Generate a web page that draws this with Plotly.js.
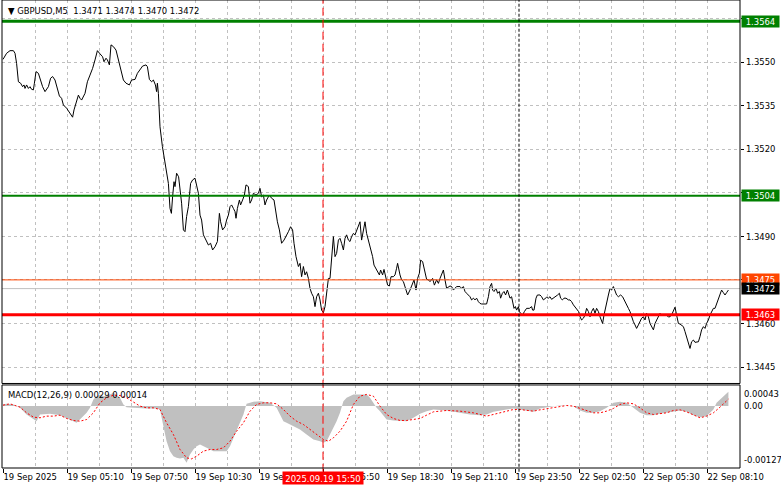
<!DOCTYPE html>
<html><head><meta charset="utf-8">
<script src="https://cdn.plot.ly/plotly-3.0.1.min.js"></script>
<style>html,body{margin:0;padding:0;background:#fff}#chart{width:781px;height:489px}</style>
</head><body><div id="chart"></div>
<script>
// ---- data (bar index of M5 bars, prices) ----
const priceIdx = [0,1.8,3.5,5.2,6,6.8,7.7,8.8,9.8,10.5,11,11.8,12.7,13.5,14.3,15.2,15.7,16.5,17.7,18.5,19.8,21,22.7,23.8,24.8,26,27.2,28.2,29.3,30.2,31.8,33.5,34.8,35.5,36.5,37.7,38.5,39.3,41,42.2,43.5,44.8,46,47.2,48.5,49.8,50.5,51.5,52.2,53.2,54,55.2,56.5,57.7,58.8,60.2,61.5,63.2,64.3,66,67.2,68.5,69.8,71.5,72.2,73.2,74.3,75.2,76.2,76.8,77.2,77.7,78.5,79.7,81,81.8,82.7,83.5,84.2,84.8,85.5,86,86.8,87.8,88.5,89.3,90.2,91,91.8,92.7,93.8,94.8,96,96.8,97.7,98.5,99.3,100.2,101,101.8,102.7,103.8,104.8,106,107.2,108.2,108.8,109.8,111,111.8,112.7,113.5,114.3,115.2,116,116.5,117.2,118.2,118.8,119.8,120.7,121.5,122.7,123.5,124.3,125.2,126.5,127.7,128.5,129.3,130.2,131,131.8,133.2,134.3,135.5,136.5,137.2,138.2,139.3,140.5,141.5,142.7,143.8,144.8,145.5,146.5,147.7,148.5,149.3,150.2,151,151.8,152.7,153.5,154.3,155.2,156,156.8,157.7,158.5,159.3,160.2,161,161.8,162.7,163.5,164.3,
165.2,166,166.8,167.7,168.5,169.3,170.2,171,171.8,172.7,173.5,174.3,175.2,176,176.8,177.7,178.5,179.3,180.2,181,181.8,182.7,183.5,184.3,184.8,185.5,186.8,188.2,188.8,189.8,190.5,191.5,192.3,193.2,194,195.2,196,196.8,197.3,198.5,199.3,200.2,201.5,202.3,203.5,204.3,205.5,206.5,207.3,208.2,208.8,209.8,210.7,211.8,212.7,213.5,214.8,215.7,216.8,217.7,218.5,219.3,220.2,221,221.8,223.5,224.3,225.2,226,226.8,228.5,229.3,230.2,231,231.8,232.7,233.5,234.3,235.2,236,236.8,237.7,238.5,239.3,240.5,241.8,242.7,243.5,244.3,244.8,245.5,246.5,247.3,248.2,248.8,249.7,250.5,251.3,252.2,253.5,254.3,255.5,256.2,256.8,257.7,258.2,258.8,259.8,260.7,261.8,263.2,264.3,264.8,265.5,266.5,267.2,268.5,269.3,270.2,271,271.8,272.7,273.5,274.3,275.2,276.5,277.3,278.2,278.8,279.7,280.5,281.5,282.7,283.5,284.3,285.2,286,287.2,287.8,288.5,289.3,290.2,291,291.8,292.7,293.5,294.3,295.2,296,296.8,297.7,298.5,299.3,299.8,300.5,301.2,301.8,302.7,303.5,304.3,305.2,306,306.8,307.7,308.8,309.8,310.5,311.5,312.7,313.5,314.3,315.2,316,316.8,317.7,318.5,319.3,320.2,321,321.8,322.7,323.5,324.3,325.2,326,326.8,327.7,328.5,329.3,330.2,331.5,332.7,333.5,334.3,335.2,336,336.8,337.7,338.5,339.3,340.2,341,341.8,342.7,343.5,344.3,345.2,346,346.8,347.7,348.5,349.3,350.2,351,351.8,352.7,353.5,354.3,355.2,356,356.8,357.7,358.5,359.3,360.2,361,361.8,362.7];
const priceVal = [1.35509,1.35530,1.35539,1.35539,1.35530,1.35495,1.35432,1.35427,1.35415,1.35421,1.35409,1.35421,1.35409,1.35415,1.35406,1.35404,1.35427,1.35467,1.35461,1.35444,1.35415,1.35398,1.35415,1.35444,1.35450,1.35438,1.35404,1.35383,1.35375,1.35352,1.35341,1.35323,1.35310,1.35335,1.35363,1.35386,1.35375,1.35369,1.35392,1.35432,1.35455,1.35478,1.35507,1.35539,1.35528,1.35518,1.35501,1.35513,1.35507,1.35490,1.35559,1.35553,1.35541,1.35507,1.35484,1.35438,1.35427,1.35421,1.35438,1.35440,1.35461,1.35472,1.35486,1.35490,1.35484,1.35440,1.35432,1.35438,1.35421,1.35398,1.35427,1.35392,1.35277,1.35209,1.35151,1.35117,1.35082,1.34996,1.34979,1.35036,1.35088,1.35071,1.35117,1.35105,1.35071,1.35014,1.34922,1.34916,1.34968,1.35002,1.35082,1.35094,1.35100,1.35071,1.35048,1.34973,1.34956,1.34905,1.34893,1.34882,1.34870,1.34876,1.34853,1.34864,1.34882,1.34979,1.34950,1.34922,1.34933,1.34956,1.34973,1.35002,1.35008,1.34996,1.34985,1.34962,1.34996,1.35025,1.35008,1.35025,1.35042,1.35077,1.35071,1.35014,1.35025,1.35048,1.35042,1.35048,1.35065,1.35036,1.35042,1.35008,1.35025,1.35042,1.35031,1.35025,1.34979,1.34950,1.34922,1.34876,1.34887,1.34899,1.34916,1.34933,1.34922,1.34876,1.34830,1.34796,1.34807,1.34761,1.34796,1.34767,1.34778,1.34755,1.34721,1.34704,1.34692,1.34658,1.34692,1.34704,1.34681,1.34646,1.34637,1.34658,1.34715,1.34755,1.34755,1.34830,
1.34899,1.34830,1.34841,1.34887,1.34893,1.34876,1.34853,1.34893,1.34905,1.34887,1.34882,1.34899,1.34910,1.34905,1.34922,1.34939,1.34950,1.34887,1.34922,1.34950,1.34910,1.34887,1.34864,1.34847,1.34830,1.34801,1.34784,1.34767,1.34784,1.34767,1.34786,1.34761,1.34732,1.34729,1.34761,1.34761,1.34767,1.34790,1.34807,1.34767,1.34750,1.34744,1.34710,1.34698,1.34715,1.34727,1.34750,1.34715,1.34755,1.34773,1.34818,1.34813,1.34790,1.34752,1.34750,1.34744,1.34755,1.34732,1.34750,1.34738,1.34755,1.34767,1.34784,1.34750,1.34721,1.34729,1.34727,1.34715,1.34721,1.34727,1.34727,1.34721,1.34727,1.34710,1.34704,1.34698,1.34692,1.34681,1.34687,1.34681,1.34687,1.34675,1.34669,1.34667,1.34667,1.34667,1.34692,1.34727,1.34738,1.34715,1.34710,1.34721,1.34704,1.34710,1.34687,1.34704,1.34710,1.34698,1.34715,1.34687,1.34692,1.34652,1.34658,1.34646,1.34658,1.34641,1.34635,1.34629,1.34641,1.34652,1.34652,1.34658,1.34646,1.34646,1.34687,1.34698,1.34698,1.34692,1.34681,1.34687,1.34690,1.34687,1.34692,1.34683,1.34687,1.34692,1.34698,1.34704,1.34687,1.34681,1.34687,1.34687,1.34681,1.34681,1.34675,1.34664,1.34658,1.34646,1.34641,1.34623,1.34612,1.34618,1.34629,1.34652,1.34641,1.34623,1.34641,1.34652,1.34635,1.34652,1.34641,1.34623,1.34606,1.34600,1.34629,1.34652,1.34681,1.34698,1.34721,1.34715,1.34727,1.34710,1.34698,1.34692,1.34698,1.34692,1.34681,1.34669,1.34652,1.34641,1.34623,1.34606,1.34595,1.34583,1.34595,1.34606,1.34618,1.34623,1.34612,1.34635,1.34623,1.34600,1.34589,1.34578,1.34600,1.34612,1.34623,1.34635,1.34629,1.34629,1.34629,1.34623,1.34623,1.34629,1.34641,1.34656,1.34629,1.34600,1.34598,1.34595,1.34589,1.34572,1.34555,1.34532,1.34514,1.34537,1.34543,1.34535,1.34535,1.34537,1.34555,1.34578,1.34589,1.34583,1.34600,1.34612,1.34629,1.34641,1.34652,1.34652,1.34669,1.34681,1.34698,1.34715,1.34706,1.34698,1.34706,1.34715];

const macdIdx = [0,1.8,5.2,8.5,11.8,15.2,16.8,18.5,23.5,28.5,31.8,35.2,36.8,38.5,41.8,43.5,45.2,46.8,48.5,50.2,53.5,55.2,58.5,60.2,61.8,65.2,68.5,71.8,76.8,78.5,80.2,81.8,83.5,85.2,86.8,88.5,90.2,91.8,93.5,95.2,96.8,98.5,101.8,105.2,108.5,111.8,113.5,115.2,116.8,118.5,120.2,121.8,125.2,128.5,131.8,133.5,135.2,136.8,138.5,140.2,141.8,145.2,148.5,151.8,155.2,158.5,160.2,161.8,163.5,165.2,166.8,168.5,170.2,171.8,173.5,175.2,178.5,181.8,183.5,185.2,186.8,188.5,191.8,195.2,198.5,201.8,205.2,208.5,211.8,215.2,221.8,228.5,233.5,238.5,241.8,245.2,248.5,251.8,255.2,258.5,261.8,265.2,268.5,271.8,275.2,278.5,281.8,285.2,288.5,291.8,295.2,298.5,301.8,305.2,308.5,311.8,315.2,318.5,321.8,325.2,328.5,331.8,335.2,338.5,341.8,345.2,348.5,351.8,353.5,355.2,356.8,358.5,360.2,361.8,362.7];
const macdVal = [0.000031,0.000044,0.000031,-0.000038,-0.000174,-0.000277,-0.000311,-0.000174,-0.000161,-0.000188,-0.000242,-0.000311,-0.000345,-0.000277,-0.000140,-0.000038,0.000133,0.000201,0.000236,0.000201,0.000236,0.000270,0.000167,0.000031,-0.000024,-0.000038,-0.000051,-0.000051,-0.000051,-0.000072,-0.000413,-0.000721,-0.000925,-0.001028,-0.001062,-0.001076,-0.001062,-0.001164,-0.000994,-0.000891,-0.000823,-0.000789,-0.000857,-0.000925,-0.000925,-0.000925,-0.000823,-0.000652,-0.000482,-0.000345,-0.000174,0.000044,0.000085,0.000099,0.000085,0.000065,0.000017,-0.000038,-0.000174,-0.000311,-0.000345,-0.000413,-0.000482,-0.000584,-0.000686,-0.000721,-0.000755,-0.000721,-0.000584,-0.000447,-0.000311,-0.000140,0.000099,0.000167,0.000201,0.000236,0.000236,0.000236,0.000167,0.000065,-0.000038,-0.000106,-0.000277,-0.000297,-0.000297,-0.000311,-0.000242,-0.000161,-0.000106,-0.000072,-0.000092,-0.000140,-0.000174,-0.000188,-0.000174,-0.000120,-0.000092,-0.000072,-0.000051,-0.000072,-0.000106,-0.000120,-0.000051,-0.000024,-0.000003,0.000010,0.000010,-0.000003,-0.000092,-0.000140,-0.000140,-0.000106,-0.000038,0.000065,0.000085,0.000065,-0.000038,-0.000140,-0.000188,-0.000188,-0.000161,-0.000140,-0.000106,-0.000092,-0.000120,-0.000188,-0.000229,-0.000208,-0.000140,-0.000072,0.000065,0.000133,0.000201,0.000270,0.00029];

const signalIdx = [0,3.5,8.5,11.8,15.2,18.5,21.8,25.2,28.5,31.8,35.2,38.5,41.8,45.2,48.5,51.8,55.2,58.5,61.8,65.2,68.5,71.8,75.2,78.5,81.8,85.2,88.5,91.8,94.3,96.8,100.2,103.5,106.8,110.2,113.5,116.8,120.2,123.5,126.8,130.2,133.5,136.8,140.2,143.5,146.8,150.2,153.5,156.8,160.2,162.7,165.2,168.5,171.8,175.2,178.5,181.8,185.2,188.5,191.8,195.2,198.5,201.8,205.2,208.5,211.8,215.2,218.5,221.8,228.5,235.2,241.8,245.2,248.5,251.8,255.2,258.5,261.8,265.2,268.5,271.8,275.2,278.5,281.8,285.2,288.5,291.8,295.2,298.5,301.8,305.2,308.5,311.8,315.2,318.5,321.8,325.2,328.5,331.8,335.2,338.5,341.8,345.2,348.5,351.8,355.2,358.5,361.8,362.7];
const signalVal = [0.000017,0.000044,-0.000024,-0.000140,-0.000229,-0.000242,-0.000208,-0.000208,-0.000188,-0.000256,-0.000297,-0.000311,-0.000277,-0.000140,0.000065,0.000167,0.000222,0.000215,0.000167,0.000085,-0.000003,-0.000038,-0.000038,-0.000072,-0.000345,-0.000584,-0.000891,-0.001062,-0.001083,-0.001028,-0.000925,-0.000891,-0.000891,-0.000857,-0.000721,-0.000516,-0.000345,-0.000106,0.000031,0.000065,0.000065,0.000044,-0.000072,-0.000208,-0.000311,-0.000379,-0.000482,-0.000584,-0.000686,-0.000721,-0.000652,-0.000516,-0.000311,0.000031,0.000201,0.000236,0.000201,-0.000003,-0.000174,-0.000256,-0.000297,-0.000297,-0.000277,-0.000256,-0.000188,-0.000120,-0.000106,-0.000092,-0.000106,-0.000140,-0.000208,-0.000174,-0.000140,-0.000106,-0.000072,-0.000072,-0.000085,-0.000106,-0.000079,-0.000058,-0.000038,-0.000010,0.000010,-0.000003,-0.000051,-0.000106,-0.000140,-0.000140,-0.000106,-0.000051,0.000031,0.000065,0.000044,-0.000038,-0.000140,-0.000174,-0.000161,-0.000140,-0.000092,-0.000079,-0.000120,-0.000188,-0.000242,-0.000208,-0.000140,-0.000024,0.000113,0.00014];

const labelIdx = [0,32,64,96,128,160,192,224,256,288,320,352];
const labelText = ['19 Sep 2025','19 Sep 05:10','19 Sep 07:50','19 Sep 10:30','19 Sep 13:10','19 Sep 15:50','19 Sep 18:30','19 Sep 21:10','19 Sep 23:50','22 Sep 02:50','22 Sep 05:30','22 Sep 08:10'];
const priceTicks = [1.3445,1.3460,1.3475,1.3490,1.3505,1.3520,1.3535,1.3550,1.3565];
const priceTickText = ['1.3445','1.3460','','1.3490','','1.3520','1.3535','1.3550',''];
const levelPrices = [1.3564,1.3504,1.3475,1.3472,1.3463];
const levelLabels = ['1.3564','1.3504','1.3475','1.3472','1.3463'];
const macdAxisVals = [0.00043,0.00,-0.00127];
const macdAxisText = ['0.00043','0.00','-0.00127'];
const cursorIdx = 160, cursorText = '2025.09.19 15:50';
const weekSepIdx = 258;
const titleText = 'GBPUSD,M5  1.3471 1.3474 1.3470 1.3472';
const macdTitle = 'MACD(12,26,9) 0.00029 0.00014';

// ---- styles ----
const FONT = 'DejaVu Sans Condensed, DejaVu Sans, sans-serif';
const FS = 9.4;
const levelColors = ['#008000','#008000','#FF4500','#C0C0C0','#FF0000'];
const levelWidths = [3,2,1,1,3];
const labelBg = ['#008000','#008000','#FF4500','#000000','#FF0000'];

const traces = [
  {x: macdIdx, y: macdVal, xaxis:'x', yaxis:'y2', type:'scatter', mode:'lines', fill:'tozeroy',
   fillcolor:'#C0C0C0', line:{width:0, color:'#C0C0C0'}, hoverinfo:'skip'},
  {x: signalIdx, y: signalVal, xaxis:'x', yaxis:'y2', type:'scatter', mode:'lines',
   line:{width:1, color:'#FF0000', dash:'2px,2px'}, hoverinfo:'skip'},
  {x: priceIdx, y: priceVal, xaxis:'x', yaxis:'y', type:'scatter', mode:'lines',
   line:{width:1, color:'#000000'}, hoverinfo:'skip'}
];

const shapes = [];
levelPrices.forEach((p,k)=>{
  shapes.push({type:'line', xref:'x domain', x0:0, x1:1, yref:'y', y0:p, y1:p,
    line:{color:levelColors[k], width:levelWidths[k]}});
});
shapes.push({type:'line', xref:'x', x0:cursorIdx, x1:cursorIdx, yref:'paper', y0:-0.008, y1:1,
  line:{color:'#FF0000', width:1, dash:'8px,4px'}});
shapes.push({type:'line', xref:'x', x0:weekSepIdx, x1:weekSepIdx, yref:'paper', y0:-0.008, y1:1,
  line:{color:'#000000', width:1, dash:'3px,2px'}});
// panel frames
shapes.push({type:'rect', xref:'paper', yref:'y domain', x0:0, x1:1, y0:0, y1:1, line:{color:'#000', width:1}});
shapes.push({type:'rect', xref:'paper', yref:'y2 domain', x0:0, x1:1, y0:0, y1:1, line:{color:'#000', width:1}});

const annotations = [];
levelPrices.forEach((p,k)=>{
  annotations.push({xref:'paper', x:1, xanchor:'left', xshift:1, yref:'y', y:p, yanchor:'middle',
    text:levelLabels[k], showarrow:false, bgcolor:labelBg[k], font:{family:FONT, size:FS, color:'#fff'},
    width:37, height:11, borderpad:0, align:'center'});
});
macdAxisVals.forEach((v,k)=>{
  const ya = k===0 ? 'top' : (k===2 ? 'bottom' : 'middle');
  annotations.push({xref:'paper', x:1, xanchor:'left', xshift:2, yref:'y2', y:v, yanchor:ya,
    yshift: k===0 ? -1 : (k===2 ? 1 : 0),
    text:macdAxisText[k], showarrow:false, font:{family:FONT, size:FS, color:'#000'}});
});
annotations.push({xref:'x', x:cursorIdx, xanchor:'center', yref:'paper', y:0, yanchor:'top', yshift:-3,
  text:cursorText, showarrow:false, bgcolor:'#FF0000', font:{family:FONT, size:FS, color:'#fff'},
  width:80, height:12, borderpad:0});
annotations.push({xref:'paper', x:0, xanchor:'left', xshift:4, yref:'paper', y:1, yanchor:'top', yshift:-3,
  text:'▼ ' + titleText, showarrow:false, font:{family:FONT, size:FS, color:'#000'}});
annotations.push({xref:'paper', x:0, xanchor:'left', xshift:4, yref:'y2 domain', y:1, yanchor:'top', yshift:-2,
  text:macdTitle, showarrow:false, font:{family:FONT, size:FS, color:'#000'}});

const layout = {
  width:781, height:489,
  margin:{l:2, r:41, t:0, b:21, pad:0},
  paper_bgcolor:'#fff', plot_bgcolor:'#fff',
  showlegend:false,
  font:{family:FONT, size:FS, color:'#000'},
  xaxis:{domain:[0,1], range:[-0.5,368.5], anchor:'y2', tickmode:'array', tickvals:labelIdx, ticktext:labelText,
    tickangle:0, automargin:false,
    showgrid:true, gridcolor:'#C0C0C0', griddash:'3px,3px', gridwidth:1, zeroline:false, showline:false,
    ticks:'outside', ticklen:4, tickcolor:'#000', ticklabelposition:'outside right',
    minor:{tick0:0, dtick:16, showgrid:true, gridcolor:'#C0C0C0', griddash:'3px,3px', gridwidth:1, ticks:''},
    tickfont:{family:FONT, size:FS, color:'#000'}, fixedrange:true},
  yaxis:{domain:[0.1806,1], range:[1.343934,1.357134], side:'right', anchor:'x', tickmode:'array',
    tickvals:priceTicks, ticktext:priceTickText, showgrid:true, gridcolor:'#C0C0C0', griddash:'3px,3px',
    zeroline:false, showline:false, ticks:'outside', ticklen:3, tickcolor:'#000', automargin:false,
    tickfont:{family:FONT, size:FS, color:'#000'}, fixedrange:true},
  yaxis2:{domain:[0,0.1774], range:[-0.00127,0.00043], side:'right', anchor:'x', showgrid:false,
    zeroline:false, showline:false, showticklabels:false, ticks:'', fixedrange:true},
  shapes:shapes, annotations:annotations
};
Plotly.newPlot('chart', traces, layout, {staticPlot:true, displayModeBar:false});
</script></body></html>
